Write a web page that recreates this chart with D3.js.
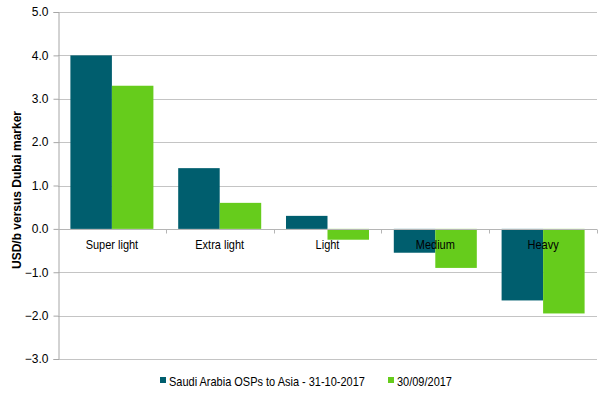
<!DOCTYPE html>
<html>
<head>
<meta charset="utf-8">
<script src="https://cdn.jsdelivr.net/npm/d3@7/dist/d3.min.js"></script>
<style>
  body { margin: 0; background: #fff; }
  text { font-family: "Liberation Sans", Arial, sans-serif; fill: #000; }
</style>
</head>
<body>
<svg id="chart" width="607" height="396"></svg>
<script>
"use strict";

// chart data
const categories = ["Super light", "Extra light", "Light", "Medium", "Heavy"];
const seriesNames = ["Saudi Arabia OSPs to Asia - 31-10-2017", "30/09/2017"];
const octValues = [4.0, 1.4, 0.3, -0.55, -1.65];
const sepValues = [3.3, 0.6, -0.25, -0.9, -1.95];
const yTicks = [-3, -2, -1, 0, 1, 2, 3, 4, 5];
const colors = ["#005E6E", "#66CC1C"];

const svg = d3.select("#chart");
const plotLeft = 58, plotRight = 597, plotTop = 12, plotBottom = 359;
const squeeze = 0.915;   // labels in the original are a little condensed

const y = d3.scaleLinear().domain([-3, 5]).range([plotBottom, plotTop]);
const x0 = d3.scaleBand().domain(categories).range([plotLeft, plotRight]).paddingInner(0.23).paddingOuter(0.115);
const x1 = d3.scaleBand().domain([0, 1]).range([0, x0.bandwidth()]);

/* gridlines */
svg.append("g")
  .selectAll("line")
  .data(yTicks)
  .enter().append("line")
  .attr("x1", plotLeft).attr("x2", plotRight)
  .attr("y1", d => Math.round(y(d)) + 0.5)
  .attr("y2", d => Math.round(y(d)) + 0.5)
  .attr("stroke", "#c4c4c4")
  .attr("stroke-width", 1);

/* bars */
const rows = categories.map((c, i) => ({ cat: c, vals: [octValues[i], sepValues[i]] }));
svg.append("g")
  .selectAll("g")
  .data(rows)
  .enter().append("g")
  .attr("transform", d => "translate(" + x0(d.cat) + ",0)")
  .selectAll("rect")
  .data(d => d.vals.map((v, k) => ({ v: v, k: k })))
  .enter().append("rect")
  .attr("x", d => x1(d.k))
  .attr("width", x1.bandwidth())
  .attr("y", d => y(Math.max(0, d.v)))
  .attr("height", d => Math.abs(y(d.v) - y(0)))
  .attr("fill", d => colors[d.k]);

/* y axis */
const yAxis = d3.axisLeft(y).tickValues(yTicks).tickSize(5).tickFormat(d3.format(".1f"));
const yg = svg.append("g")
  .attr("transform", "translate(" + (plotLeft + 0.5) + ",0)")
  .call(yAxis);
yg.select(".domain").attr("stroke", "#a6a6a6");
yg.selectAll(".tick line").attr("stroke", "#a6a6a6");
yg.selectAll(".tick text")
  .attr("x", -10)
  .style("font-size", "12px")
  .style("font-family", "Liberation Sans, Arial, sans-serif");

/* zero line with category ticks */
const zeroY = Math.round(y(0)) + 0.5;
svg.append("line")
  .attr("x1", plotLeft).attr("x2", plotRight)
  .attr("y1", zeroY).attr("y2", zeroY)
  .attr("stroke", "#b5b5b5");
const xTickPos = d3.range(categories.length + 1).map(i => plotLeft + i * (plotRight - plotLeft) / categories.length);
svg.append("g")
  .selectAll("line")
  .data(xTickPos.slice(1))
  .enter().append("line")
  .attr("x1", d => Math.round(d) + 0.5).attr("x2", d => Math.round(d) + 0.5)
  .attr("y1", zeroY).attr("y2", zeroY + 4)
  .attr("stroke", "#b5b5b5");

/* category labels */
svg.append("g")
  .selectAll("text")
  .data(categories)
  .enter().append("text")
  .attr("transform", d => "translate(" + (x0(d) + x0.bandwidth() / 2) + "," + (y(0) + 20) + ") scale(" + squeeze + ",1)")
  .attr("text-anchor", "middle")
  .style("font-size", "12px")
  .text(d => d);

/* y axis title */
svg.append("text")
  .attr("transform", "translate(21,190) rotate(-90)")
  .attr("text-anchor", "middle")
  .style("font-size", "12px")
  .style("font-weight", "bold")
  .text("USD/b versus Dubai marker");

/* legend */
const legendItems = [{ x: 160, name: seriesNames[0], c: colors[0] }, { x: 388, name: seriesNames[1], c: colors[1] }];
const lg = svg.append("g").selectAll("g")
  .data(legendItems)
  .enter().append("g")
  .attr("transform", d => "translate(" + d.x + ",377)");
lg.append("rect")
  .attr("x", 0).attr("y", 0)
  .attr("width", 6).attr("height", 6)
  .attr("fill", d => d.c);
lg.append("text")
  .attr("transform", "translate(9,8.5) scale(" + squeeze + ",1)")
  .style("font-size", "12px")
  .text(d => d.name);
</script>
</body>
</html>
